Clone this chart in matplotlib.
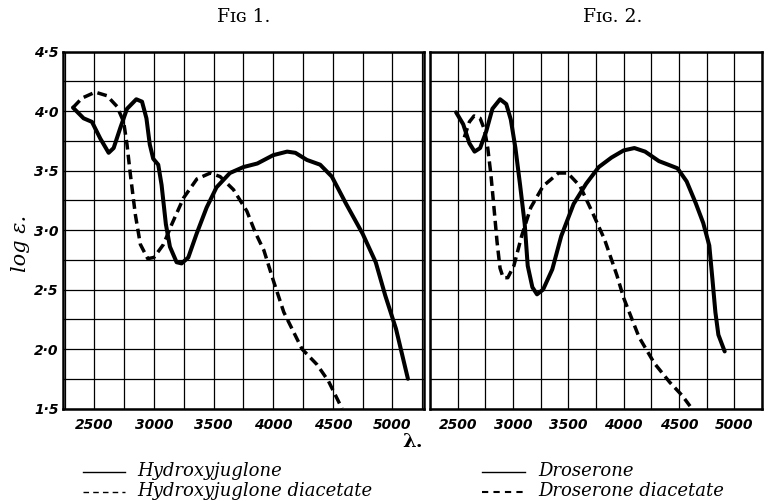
import matplotlib.pyplot as plt
from matplotlib.lines import Line2D

# Fig 1 - Hydroxyjuglone
hj_wl = [2321, 2410, 2480, 2550, 2620, 2662, 2718, 2774, 2852, 2900, 2937, 2965, 2994, 3036,
         3064, 3100, 3134, 3190, 3232, 3288, 3358, 3442, 3525, 3637, 3750, 3867, 4000, 4117,
         4186, 4283, 4394, 4492, 4612, 4750, 4860, 4940, 5030, 5130]
hj_log = [4.03, 3.94, 3.91, 3.77, 3.65, 3.69, 3.86, 4.02, 4.10, 4.08, 3.94, 3.72, 3.60, 3.55,
          3.38, 3.05, 2.86, 2.73, 2.72, 2.77, 2.97, 3.19, 3.36, 3.48, 3.53, 3.56, 3.63, 3.66,
          3.65, 3.59, 3.55, 3.45, 3.22, 2.97, 2.73, 2.45, 2.17, 1.75]

hjd_wl = [2321, 2397, 2508, 2606, 2690, 2746, 2774, 2802, 2844, 2886, 2948, 3000, 3080, 3150,
          3248, 3360, 3473, 3555, 3667, 3779, 3850, 3922, 4000, 4089, 4242, 4367, 4464, 4577]
hjd_log = [4.03, 4.11, 4.16, 4.13, 4.04, 3.91, 3.72, 3.47, 3.13, 2.88, 2.76, 2.77, 2.88, 3.05,
           3.27, 3.43, 3.48, 3.45, 3.34, 3.16, 2.98, 2.83, 2.58, 2.31, 2.00, 1.87, 1.73, 1.50]

# Fig 2 - Droserone
dr_wl = [2486, 2550, 2606, 2653, 2703, 2758, 2814, 2883, 2939, 2980, 3022, 3064, 3106, 3133,
         3175, 3217, 3272, 3355, 3436, 3548, 3661, 3775, 3890, 4000, 4097, 4194, 4319, 4403,
         4486, 4569, 4650, 4719, 4774, 4802, 4829, 4856, 4913]
dr_log = [3.99, 3.89, 3.73, 3.66, 3.69, 3.83, 4.02, 4.10, 4.06, 3.93, 3.69, 3.38, 3.05, 2.70,
          2.52, 2.46, 2.50, 2.67, 2.95, 3.22, 3.39, 3.53, 3.61, 3.67, 3.69, 3.66, 3.58, 3.55,
          3.52, 3.41, 3.23, 3.06, 2.87, 2.59, 2.31, 2.12, 1.98]

drd_wl = [2560, 2606, 2648, 2703, 2744, 2772, 2800, 2828, 2856, 2883, 2911, 2953, 3008, 3078,
          3161, 3272, 3411, 3494, 3606, 3717, 3828, 3939, 4000, 4139, 4278, 4417, 4528, 4600]
drd_log = [3.78, 3.91, 3.96, 3.94, 3.84, 3.69, 3.47, 3.19, 2.90, 2.68, 2.60, 2.60, 2.70, 2.95,
           3.19, 3.37, 3.48, 3.48, 3.37, 3.15, 2.92, 2.62, 2.43, 2.10, 1.88, 1.72, 1.61, 1.52]

x_ticks = [2500, 3000, 3500, 4000, 4500, 5000]
y_ticks = [1.5, 2.0, 2.5, 3.0, 3.5, 4.0, 4.5]
y_labels = ['1·5', '2·0', '2·5', '3·0', '3·5', '4·0', '4·5']

fig = plt.figure(figsize=(7.78, 5.01), dpi=100)
ax1 = fig.add_axes([0.0814, 0.1846, 0.4636, 0.7122])
ax2 = fig.add_axes([0.5527, 0.1846, 0.4267, 0.7122])

for ax, xlim in [(ax1, (2240, 5265)), (ax2, (2250, 5000))]:
    ax.set_xlim(*xlim)
    ax.set_ylim(1.5, 4.5)
    ax.set_xticks(x_ticks)
    ax.set_xticks([2250, 2750, 3250, 3750, 4250, 4750, 5250], minor=True)
    ax.set_yticks(y_ticks)
    ax.set_yticks([1.75, 2.25, 2.75, 3.25, 3.75, 4.25], minor=True)
    ax.grid(True, which='both', color='black', linewidth=0.9)
    ax.tick_params(which='both', length=0)
    ax.tick_params(axis='x', pad=7)
    for s in ax.spines.values():
        s.set_linewidth(1.8)
    for lab in ax.get_xticklabels():
        lab.set_fontstyle('italic')
        lab.set_fontweight('bold')
        lab.set_fontsize(10)

ax1.set_yticklabels(y_labels, fontstyle='italic', fontweight='bold', fontsize=10)
ax2.set_yticklabels([])

ax1.plot(hj_wl, hj_log, color='black', lw=2.9, solid_capstyle='round', solid_joinstyle='round')
ax1.plot(hjd_wl, hjd_log, color='black', lw=2.5, dashes=[2.8, 1.5])
ax2.plot(dr_wl, dr_log, color='black', lw=2.9, solid_capstyle='round', solid_joinstyle='round')
ax2.plot(drd_wl, drd_log, color='black', lw=2.5, dashes=[2.8, 1.5])

fig.text(0.313, 0.966, 'Fɪɢ 1.', family='DejaVu Serif', fontsize=13.5, ha='center', va='center')
fig.text(0.788, 0.966, 'Fɪɢ. 2.', family='DejaVu Serif', fontsize=13.5, ha='center', va='center')
fig.text(0.026, 0.515, 'log ε.', family='DejaVu Serif', fontstyle='italic', fontsize=15,
         rotation=90, ha='center', va='center')
fig.text(0.53, 0.117, 'λ.', family='DejaVu Serif', fontweight='bold', fontsize=14,
         ha='center', va='center')

# legends
fig.add_artist(Line2D([0.107, 0.161], [0.058, 0.058], color='black', lw=1.0))
fig.add_artist(Line2D([0.107, 0.161], [0.018, 0.018], color='black', lw=1.0, dashes=[4, 3]))
fig.add_artist(Line2D([0.620, 0.675], [0.058, 0.058], color='black', lw=1.0))
fig.add_artist(Line2D([0.620, 0.675], [0.018, 0.018], color='black', lw=1.5, dashes=[3, 2.5]))
legend_kw = dict(family='DejaVu Serif', fontstyle='italic', fontsize=13, va='center', ha='left')
fig.text(0.177, 0.060, 'Hydroxyjuglone', **legend_kw)
fig.text(0.177, 0.020, 'Hydroxyjuglone diacetate', **legend_kw)
fig.text(0.692, 0.060, 'Droserone', **legend_kw)
fig.text(0.692, 0.020, 'Droserone diacetate', **legend_kw)

fig.savefig('out.png', dpi=100)
